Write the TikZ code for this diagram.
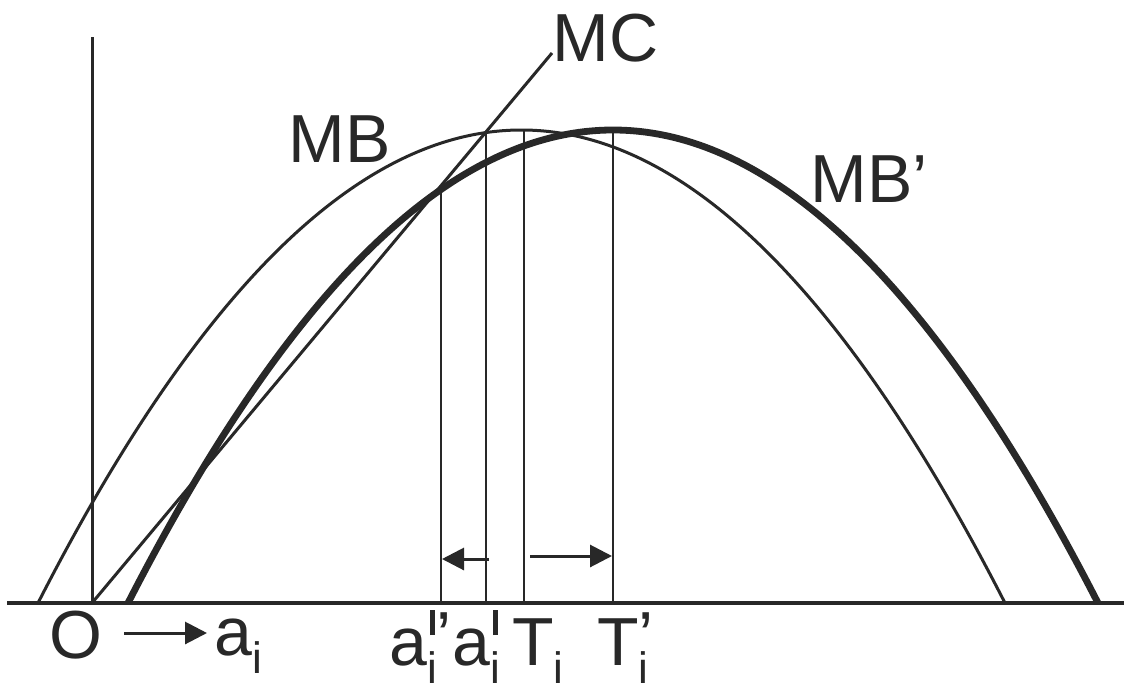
\documentclass[tikz,border=0pt]{standalone}
\usepackage{fontspec}
\setmainfont{Liberation Sans}
\usetikzlibrary{arrows.meta}
\definecolor{ink}{RGB}{40,40,40}
\newcommand{\subi}{\smash{\raisebox{-9pt}{\fontsize{22}{22}\selectfont i}}}
\newcommand{\bari}{\rlap{\hspace{1.2pt}\rule[15pt]{2.5pt}{12.5pt}}}
\newcommand{\primeup}{\rlap{\raisebox{3pt}{’}}}
\begin{document}
\begin{tikzpicture}[x=0.5pt,y=-0.5pt,
  thinline/.style={draw=ink,line width=1.5pt},
  thickcurve/.style={draw=ink,line width=3.4pt},
  axisline/.style={draw=ink,line width=2pt},
  guide/.style={draw=ink,line width=1.35pt},
  shift arrow/.style={draw=ink,line width=1.5pt,-{Triangle[length=11pt,width=11pt]}},
  lbl/.style={anchor=base west,inner sep=0pt,text=ink,font=\fontsize{34}{40}\selectfont}]
\fill[white] (0,0) rectangle (1124,686);
\path[use as bounding box] (0,0) rectangle (1124,686);
% key points
\coordinate (O) at (92,603);
\coordinate (axL) at (7,603);
\coordinate (axR) at (1124,603);
\coordinate (axT) at (92,37);
\coordinate (mcEnd) at (552,53);
\coordinate (mbL) at (38,603);
\coordinate (mbA) at (360.33,-27.67);
\coordinate (mbB) at (682.67,-27.67);
\coordinate (mbR) at (1005,603);
\coordinate (mpL) at (128,603);
\coordinate (mpA) at (451.33,-27.67);
\coordinate (mpB) at (774.67,-27.67);
\coordinate (mpR) at (1098,603);
\coordinate (v1b) at (441,603); \coordinate (v1t) at (441,186);
\coordinate (v2b) at (486,603); \coordinate (v2t) at (486,132);
\coordinate (v3b) at (524,603); \coordinate (v3t) at (524,130);
\coordinate (v4b) at (613,603); \coordinate (v4t) at (613,130);
\coordinate (arL1) at (489,559); \coordinate (arL2) at (442,559);
\coordinate (arR1) at (530,556); \coordinate (arR2) at (612,556);
\coordinate (arO1) at (124,633); \coordinate (arO2) at (207,633);
% curves
\draw[thinline] (mbL) .. controls (mbA) and (mbB) .. (mbR);
\draw[thickcurve] (mpL) .. controls (mpA) and (mpB) .. (mpR);
\draw[thinline] (O) -- (mcEnd);
% guides
\draw[guide] (v1b) -- (v1t);
\draw[guide] (v2b) -- (v2t);
\draw[guide] (v3b) -- (v3t);
\draw[guide] (v4b) -- (v4t);
% axes
\draw[axisline] (axL) -- (axR);
\draw[thinline] (O) -- (axT);
% arrows
\draw[shift arrow] (arL1) -- (arL2);
\draw[shift arrow] (arR1) -- (arR2);
\draw[shift arrow] (arO1) -- (arO2);
% labels
\node[lbl] (lMC) at (552,61) {MC};
\node[lbl] (lMB) at (288,162) {MB};
\node[lbl] (lMBp) at (810,202) {MB’};
\node[lbl] (lO) at (48.6,658) {O};
\node[lbl] (lai) at (214,655) {a\subi};
\node[lbl] (laip) at (389,665) {a\bari\subi\raisebox{3pt}{’}};
\node[lbl] (lai2) at (452,665) {a\bari\subi};
\node[lbl] (lTi) at (512,665) {T\subi};
\node[lbl] (lTip) at (597,665) {T\primeup\subi};
\end{tikzpicture}
\end{document}
